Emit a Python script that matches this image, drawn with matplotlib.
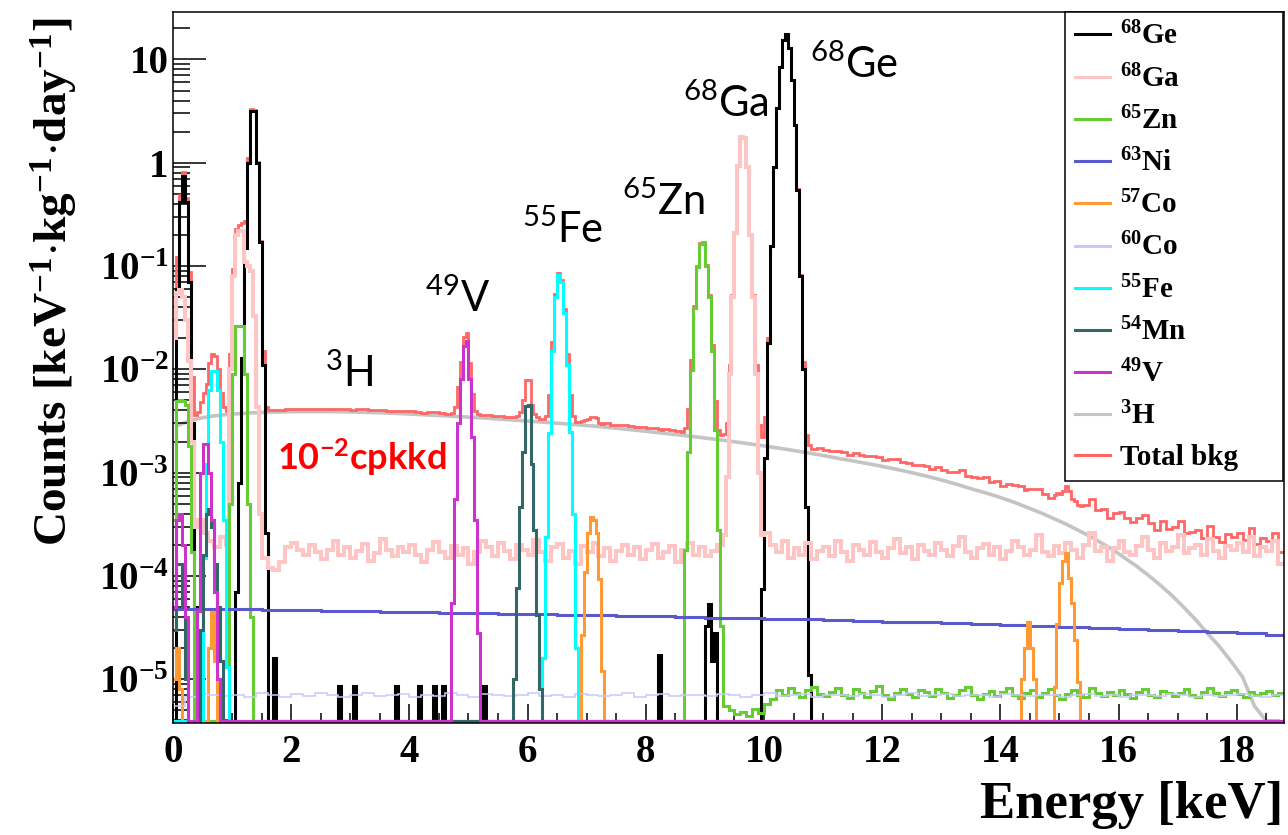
import numpy as np
import matplotlib
matplotlib.use('Agg')
import matplotlib.pyplot as plt
from matplotlib.lines import Line2D
from matplotlib.ticker import MultipleLocator, LogLocator, NullFormatter, FixedLocator

plt.rcParams['mathtext.default'] = 'regular'

# common binning of the spectra (keV)
BIN = 0.05
E_MAX = 18.8

# ---- 68Ge (black): M, L, K peaks + a few single counts ----
ge68_m_start, ge68_m = 0.05, [0.06, 0.42, 0.75, 0.42, 0.07, 3e-3, 5e-5]
ge68_l_start, ge68_l = 1.05, [7e-5, 8e-4, 0.013, 0.15, 1.0, 3.2, 3.2, 1.0, 0.17, 0.011, 2.6e-4]
ge68_k_start, ge68_k = 9.95, [7.5e-5, 1.4e-3, 0.018, 0.155, 0.9, 3.4, 8.5, 15.5, 17.5,
                              13, 6.3, 2.3, 0.55, 0.08, 0.01, 4.6e-4, 1.1e-5]
ge68_spike_e = [1.70, 2.80, 3.05, 3.75, 4.15, 4.40, 4.55, 5.25, 8.20, 9.00, 9.05, 9.10, 9.15]
ge68_spike_v = [1.6e-5, 8.6e-6, 8.6e-6, 8.6e-6, 8.6e-6, 8.6e-6, 8.6e-6, 8.6e-6,
                1.7e-5, 3.3e-5, 5.3e-5, 1.5e-5, 2.8e-5]

# ---- 68Ga (pink) ----
ga68_m_start, ga68_m = 0.0, [0.02, 0.055, 0.058, 0.05, 0.03, 0.012, 2e-3, 3e-4]
ga68_l_start, ga68_l = 0.95, [0.01, 0.08, 0.2, 0.22, 0.22, 0.11, 0.1, 0.09, 0.033, 4.3e-3, 4e-4]
ga68_k_start, ga68_k = 9.30, [2.5e-4, 9e-4, 9e-3, 0.05, 0.21, 0.92, 1.78, 1.75, 0.9, 0.2,
                              0.05, 9e-3, 1e-3, 2.5e-4]
# continuum in 1e-4, 0.1 keV bins from 0.4 keV
ga68_base_start = 0.4
ga68_base = [3.5, 2.6, 2.2, 1.9, 2.4, 2.0, 1.8, 2.0, 1.9, 1.7, 1.6,
             1.5, 1.2, 1.15, 1.35, 1.9,
             2.1, 1.8, 1.6, 2.0, 1.7, 1.45, 1.8, 2.2, 1.6, 1.9,
             1.5, 1.75, 2.05, 1.4, 1.65, 2.3, 1.8, 1.55, 1.9, 1.7,
             2.0, 1.6, 1.35, 1.8, 2.15, 1.7, 1.5, 1.95, 1.6, 1.85,
             1.3, 1.7, 2.2, 1.9, 1.55, 2.1, 1.75, 1.45, 2.0, 1.8,
             1.6, 2.25, 1.7, 1.4, 1.9, 2.05, 1.5, 1.75, 1.3, 1.95,
             1.7, 2.1, 1.55, 1.85, 1.4, 1.75, 2.0, 1.6, 1.9, 1.45,
             1.8, 2.05, 1.5, 1.7, 1.95, 1.35, 1.8, 2.1, 1.6, 1.9,
             1.55, 1.75, 2.0, 1.7, 1.6, 1.8, 1.9, 1.7, 1.8, 1.75,
             2.6, 2.0, 1.7, 2.2, 1.5, 1.85, 1.6, 2.1, 1.45, 1.75,
             1.9, 1.55, 2.2, 1.7, 1.4, 2.0, 1.8, 1.6, 2.15, 1.7,
             1.5, 1.85, 2.3, 1.65, 1.9, 1.45, 2.0, 1.75, 1.6, 2.1,
             1.8, 1.55, 1.95, 2.4, 1.7, 1.5, 1.85, 2.05, 1.6, 1.9,
             1.45, 1.75, 2.2, 1.9, 1.6, 1.8, 2.5, 1.7, 1.55, 1.95,
             1.65, 2.1, 1.8, 1.5, 2.0, 2.6, 1.75, 1.9, 1.4, 1.85,
             2.2, 1.7, 1.6, 1.95, 2.4, 1.8, 1.5, 2.1, 1.75, 1.9,
             2.5, 1.65, 1.85, 2.0, 1.6, 2.3, 1.75, 1.5, 1.95, 1.8,
             2.1, 1.7, 2.4, 1.55, 1.9, 1.75, 2.2, 1.3]

# ---- 65Zn (green) ----
zn65_m_start, zn65_m = 0.0, [3.5e-4, 4.9e-3, 5e-3, 4.9e-3, 4.5e-3, 1.8e-3, 1.7e-4]
zn65_l_start, zn65_l = 0.95, [5e-4, 9e-3, 0.026, 0.026, 0.026, 9e-3, 5e-4, 4e-5]
zn65_k_start, zn65_k = 8.65, [1.8e-4, 1.6e-3, 9.9e-3, 0.039, 0.097, 0.163, 0.167, 0.1,
                              0.05, 0.015, 2.6e-3, 2.8e-4, 3.3e-5]
# continuum in 1e-6, 0.1 keV bins from 9.3 keV
zn65_base_start = 9.3
zn65_base = [5.5, 5.0, 4.6, 4.8, 4.4, 5.2, 4.7,
             5.8, 6.5, 7.8, 7.0, 8.2, 7.4, 6.8, 7.9, 8.5, 7.2,
             6.9, 7.6, 8.3, 7.1, 6.6, 8.0, 7.3, 6.8, 7.7, 8.6,
             7.0, 6.5, 7.4, 8.1, 7.2, 6.7, 7.9, 7.5, 6.9, 8.0,
             7.3, 6.6, 7.1, 7.8, 8.4, 7.0, 6.4, 7.2, 7.7, 6.9,
             7.6, 8.2, 7.0, 6.6, 7.4, 7.9, 6.8, 7.3, 8.0, 7.1,
             6.5, 7.2, 7.8, 7.0, 6.7, 8.3, 7.4, 6.9, 7.6, 7.1,
             7.9, 7.2, 6.6, 7.5, 8.1, 7.0, 6.8, 7.7, 7.3, 6.9,
             7.4, 8.0, 7.1, 6.7, 7.6, 8.2, 7.3, 6.9, 7.5, 7.8,
             7.2, 6.8, 7.6, 7.0, 7.3, 7.7, 7.1, 7.4]

# ---- 63Ni (blue), 1e-5, 0.5 keV bins ----
ni63 = [4.8, 4.8, 4.75, 4.7, 4.65, 4.6, 4.55, 4.5, 4.45, 4.4, 4.35, 4.3, 4.25,
        4.2, 4.15, 4.1, 4.05, 4.0, 3.95, 3.9, 3.85, 3.8, 3.75, 3.7, 3.6, 3.55,
        3.5, 3.4, 3.35, 3.3, 3.2, 3.15, 3.05, 3.0, 2.95, 2.85, 2.8, 2.7]

# ---- 57Co (orange) ----
co57_m_start, co57_m = 0.0, [1e-5, 2e-5, 8e-6]
co57_l_start, co57_l = 0.60, [2e-5, 4.5e-5, 1.5e-5]
co57_k_start, co57_k = 6.90, [2.7e-5, 1.1e-4, 2.6e-4, 3.7e-4, 3.5e-4, 2.6e-4, 9.3e-5, 1.2e-5, 2e-6]
co57_a_start, co57_a = 14.35, [1e-5, 2e-5, 3.6e-5, 2e-5, 1e-5]
co57_b_start, co57_b = 14.90, [8.5e-6, 3.4e-5, 8.6e-5, 1.4e-4, 1.66e-4, 9.5e-5, 5.5e-5, 2.4e-5, 9.5e-6]

# ---- 60Co (lavender), 1e-6, 0.2 keV bins ----
co60 = [5.5, 6.8, 7.2, 7.0, 6.9,
        7.1, 6.8, 7.3, 7.0, 6.7, 7.2, 6.9, 7.4, 7.0, 6.8,
        7.1, 7.3, 6.9, 7.0, 7.2, 6.8, 7.1, 6.9, 7.3, 7.0,
        6.8, 7.2, 7.0, 6.9, 7.1, 7.4, 6.9, 7.0, 6.8, 7.2,
        7.0, 6.9, 7.1, 7.3, 6.8, 7.0, 7.2, 6.9, 7.1, 7.0,
        6.9, 7.2, 7.0, 6.8, 7.1, 7.3, 6.9, 7.0, 7.2, 6.8,
        7.1, 7.0, 6.9, 7.2, 7.0, 6.8, 7.1, 7.3, 6.9, 7.0,
        7.2, 6.9, 7.0, 7.1, 6.8, 7.2, 7.0, 6.9, 7.1, 7.0,
        6.8, 7.1, 7.2, 6.9, 7.0, 6.8, 7.1, 7.0, 6.9, 7.2,
        7.0, 6.8, 7.1, 6.9, 7.0, 7.2, 6.9, 6.8, 7.0]

# ---- 55Fe (cyan) ----
fe55_l_start, fe55_l = 0.50, [1.5e-4, 1.2e-3, 6.3e-3, 9.6e-3, 9.6e-3, 6.3e-3, 2e-3, 3.5e-4, 1.3e-5]
fe55_k_start, fe55_k = 6.25, [1.6e-5, 2.4e-4, 2.4e-3, 0.015, 0.05, 0.082, 0.07, 0.035,
                              0.011, 2.5e-3, 4e-4, 2e-5]

# ---- 54Mn (dark teal) ----
mn54_m_start, mn54_m = 0.0, [3e-5, 1.3e-4, 1.3e-4, 5e-5, 1e-5]
mn54_l_start, mn54_l = 0.45, [3e-5, 1.6e-4, 4e-4, 4.4e-4, 3e-4, 1.3e-4, 5e-5, 1.5e-5, 4e-6]
mn54_k_start, mn54_k = 5.75, [1e-5, 7.7e-5, 4.6e-4, 1.6e-3, 4.4e-3, 4.5e-3, 1.2e-3, 2.8e-4, 4.2e-5, 8e-6]

# ---- 49V (magenta) ----
v49_m_start, v49_m = 0.0, [5e-5, 3.5e-4, 4e-4, 2e-4, 4e-5]
v49_l_start, v49_l = 0.40, [4.6e-5, 1e-3, 1.9e-3, 1.9e-3, 1e-3, 3.5e-4, 7e-5, 1e-5]
v49_k_start, v49_k = 4.70, [5.5e-5, 5.5e-4, 3e-3, 8e-3, 0.017, 0.019, 8e-3, 2.2e-3, 3.5e-4, 2.8e-5]

# ---- 3H (grey), 0.2 keV bins ----
h3 = [2.9e-3, 3.2e-3, 3.4e-3, 3.55e-3, 3.65e-3, 3.72e-3, 3.78e-3, 3.83e-3, 3.86e-3, 3.88e-3,
      3.9e-3, 3.9e-3, 3.9e-3, 3.9e-3, 3.88e-3, 3.86e-3, 3.83e-3, 3.8e-3, 3.76e-3, 3.72e-3,
      3.67e-3, 3.62e-3, 3.57e-3, 3.52e-3, 3.47e-3, 3.42e-3, 3.37e-3, 3.31e-3, 3.25e-3, 3.19e-3,
      3.13e-3, 3.07e-3, 3.01e-3, 2.95e-3, 2.89e-3, 2.83e-3, 2.76e-3, 2.69e-3, 2.62e-3, 2.55e-3,
      2.48e-3, 2.41e-3, 2.34e-3, 2.27e-3, 2.2e-3, 2.13e-3, 2.06e-3, 1.99e-3, 1.92e-3, 1.85e-3,
      1.78e-3, 1.71e-3, 1.64e-3, 1.57e-3, 1.5e-3, 1.43e-3, 1.36e-3, 1.3e-3, 1.24e-3, 1.18e-3,
      1.12e-3, 1.06e-3, 1.0e-3, 9.4e-4, 8.8e-4, 8.2e-4, 7.6e-4, 7.0e-4, 6.5e-4, 6.0e-4,
      5.5e-4, 5.0e-4, 4.5e-4, 4.05e-4, 3.6e-4, 3.2e-4, 2.8e-4, 2.45e-4, 2.1e-4, 1.8e-4,
      1.5e-4, 1.25e-4, 1.02e-4, 8.2e-5, 6.5e-5, 5.0e-5, 3.8e-5, 2.8e-5, 2.1e-5, 1.5e-5,
      1.05e-5, 5.5e-6, 0, 0]

labels = [r'$^{68}$Ge', r'$^{68}$Ga', r'$^{65}$Zn', r'$^{63}$Ni', r'$^{57}$Co', r'$^{60}$Co',
          r'$^{55}$Fe', r'$^{54}$Mn', r'$^{49}$V', r'$^{3}$H', 'Total bkg']
colors = ['black', '#ffc4c4', '#66cc33', '#5a5acc', '#ff9933', '#c8c8ff',
          '#00ffff', '#336666', '#cc33cc', '#c4c4c4', '#ff6666']
widths = [2.2, 2.9, 2.2, 2.2, 2.2, 1.1, 2.2, 2.2, 2.2, 2.6, 2.0]

edges = np.round(np.arange(0, E_MAX + BIN / 2, BIN), 4)
nb = len(edges) - 1


def place(arr, start, vals, width=BIN, scale=1.0):
    k = int(round(width / BIN))
    i0 = int(round(start / BIN))
    v = np.repeat(np.asarray(vals, float) * scale, k)
    n = min(len(v), nb - i0)
    arr[i0:i0 + n] = v[:n]


ge = np.zeros(nb)
for s, v in [(ge68_m_start, ge68_m), (ge68_l_start, ge68_l), (ge68_k_start, ge68_k)]:
    place(ge, s, v)
for e, v in zip(ge68_spike_e, ge68_spike_v):
    place(ge, e, [v])

ga = np.zeros(nb)
place(ga, ga68_base_start, ga68_base, 0.1, 1e-4)
for s, v in [(ga68_m_start, ga68_m), (ga68_l_start, ga68_l), (ga68_k_start, ga68_k)]:
    place(ga, s, v)

zn = np.zeros(nb)
place(zn, zn65_base_start, zn65_base, 0.1, 1e-6)
for s, v in [(zn65_m_start, zn65_m), (zn65_l_start, zn65_l), (zn65_k_start, zn65_k)]:
    place(zn, s, v)

ni = np.zeros(nb)
place(ni, 0.0, ni63, 0.5, 1e-5)

co57 = np.zeros(nb)
for s, v in [(co57_m_start, co57_m), (co57_l_start, co57_l), (co57_k_start, co57_k),
             (co57_a_start, co57_a), (co57_b_start, co57_b)]:
    place(co57, s, v)

co = np.zeros(nb)
place(co, 0.0, co60, 0.2, 1e-6)

fe = np.zeros(nb)
for s, v in [(fe55_l_start, fe55_l), (fe55_k_start, fe55_k)]:
    place(fe, s, v)

mn = np.zeros(nb)
for s, v in [(mn54_m_start, mn54_m), (mn54_l_start, mn54_l), (mn54_k_start, mn54_k)]:
    place(mn, s, v)

vv = np.zeros(nb)
for s, v in [(v49_m_start, v49_m), (v49_l_start, v49_l), (v49_k_start, v49_k)]:
    place(vv, s, v)

h3_hist = np.zeros(nb)
place(h3_hist, 0.0, h3, 0.2)
h3_x = np.arange(len(h3)) * 0.2 + 0.1

total = ge + ga + zn + ni + co57 + co + fe + mn + vv + h3_hist

YMIN, YMAX = 3.77e-6, 28.8
floor = 3.95e-6

fig = plt.figure(figsize=(12.88, 8.35), dpi=100)
ax = fig.add_axes([173 / 1288, 1 - 723 / 835, (1284 - 173) / 1288, (723 - 12) / 835])
ax.set_yscale('log')

# total first (underneath), grey tritium below it
ax.plot(h3_x, np.clip(h3, floor, None), color=colors[9], lw=widths[9], zorder=1.5)
ax.stairs(np.clip(total, floor, None), edges, baseline=None, color=colors[10],
          lw=widths[10], zorder=1.8)
hists = [ge, ga, zn, ni, co57, co, fe, mn, vv]
for h, c, w in zip(hists, colors[:9], widths[:9]):
    ax.stairs(np.clip(h, floor, None), edges, baseline=None, color=c, lw=w, zorder=2)

ax.set_xlim(0, E_MAX)
ax.set_ylim(YMIN, YMAX)

tick_font = dict(family='Liberation Serif', weight='bold', size=28)
ax.xaxis.set_major_locator(MultipleLocator(2))
ax.xaxis.set_minor_locator(MultipleLocator(0.5))
ax.set_xticklabels([f'{t:g}' for t in ax.get_xticks()], fontdict=tick_font)
yt = [1e-5, 1e-4, 1e-3, 1e-2, 1e-1, 1, 10]
ax.yaxis.set_major_locator(FixedLocator(yt))
ax.set_yticklabels([r'$10^{-5}$', r'$10^{-4}$', r'$10^{-3}$', r'$10^{-2}$', r'$10^{-1}$', '1', '10'],
                   fontdict=tick_font)
ax.yaxis.set_minor_locator(LogLocator(base=10, subs=np.arange(2, 10)))
ax.yaxis.set_minor_formatter(NullFormatter())
ax.tick_params(axis='y', which='major', direction='in', length=24, width=1.1, pad=3)
ax.tick_params(axis='y', which='minor', direction='in', length=12, width=1.1)
ax.tick_params(axis='x', which='major', direction='in', length=14, width=1.1, pad=8)
ax.tick_params(axis='x', which='minor', direction='in', length=7, width=1.1)
for sp in ax.spines.values():
    sp.set_linewidth(1.1)

fig.text(55 / 1288, 1 - 282 / 835, r'Counts [keV$^{-1}$$\cdot$kg$^{-1}$$\cdot$day$^{-1}$]',
         rotation=90, ha='center', va='center', family='Liberation Serif', weight='bold', size=34)
fig.text(1283 / 1288, 1 - 818 / 835, 'Energy [keV]', ha='right', va='baseline',
         family='Liberation Serif', weight='bold', size=38)

handles = [Line2D([], [], color=c, lw=2.2) for c in colors]
lx0 = (1065 - 173) / (1284 - 173)
leg = ax.legend(handles, labels, loc='upper right', bbox_to_anchor=(lx0, 0.0, 0.999 - lx0, 1.0),
                mode='expand', borderaxespad=0,
                prop=dict(family='Liberation Serif', weight='bold', size=21),
                handlelength=1.2, handletextpad=0.35, borderpad=0.35, labelspacing=0.47,
                fancybox=False, framealpha=1, edgecolor='black')
leg.get_frame().set_linewidth(1.1)

ann_font = dict(family=['Lato', 'DejaVu Sans'], size=30)
notes = [(10.78, 6.6, r'$^{68}$Ge'), (8.63, 2.77, r'$^{68}$Ga'), (7.6, 0.313, r'$^{65}$Zn'),
         (5.9, 0.1675, r'$^{55}$Fe'), (4.26, 0.036, r'$^{49}$V'), (2.57, 6.8e-3, r'$^{3}$H')]
for x, y, s in notes:
    ax.text(x, y, s, ha='left', va='baseline', **ann_font)
ax.text(1.76, 1.06e-3, r'10$^{-2}$cpkkd', ha='left', va='baseline', color='red',
        family=['Lato', 'DejaVu Sans'], weight='bold', size=26)

fig.savefig('out.png', dpi=100)
